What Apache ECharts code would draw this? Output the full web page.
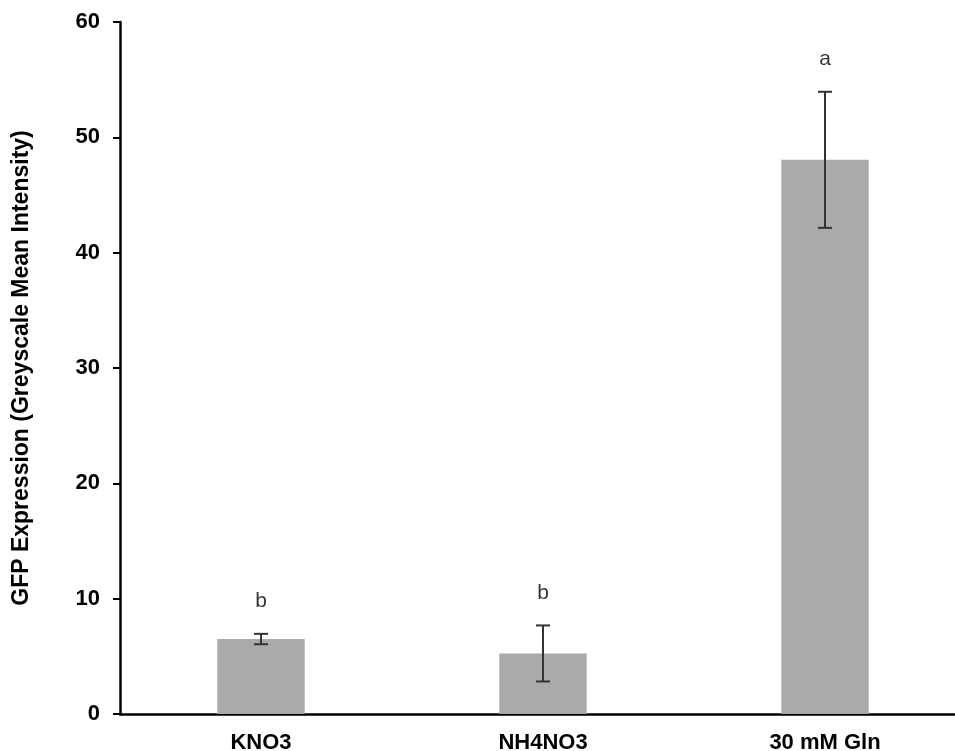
<!DOCTYPE html>
<html>
<head>
<meta charset="utf-8">
<script src="https://cdn.jsdelivr.net/npm/echarts@6/dist/echarts.min.js"></script>
<style>
    html, body { margin: 0; padding: 0; background: #fff; }
    #chart { width: 955px; height: 751px; }
</style>
</head>
<body>
<div id="chart"></div>
<script>
    var categories = ['KNO3', 'NH4NO3', '30 mM Gln'];
    var means = [6.5, 5.25, 48.05];
    var errors = [0.45, 2.43, 5.9];
    var letters = ['b', 'b', 'a'];
    var yTicks = [0, 10, 20, 30, 40, 50, 60];

    var font = 'Liberation Sans, Arial, sans-serif';
    var chart = echarts.init(document.getElementById('chart'));

    var errData = means.map(function (m, i) { return [i, m - errors[i], m + errors[i]]; });
    var letterData = means.map(function (m, i) { return [i, m + errors[i]]; });

    var option = {
        animation: false,
        grid: { left: 120, top: 22, width: 846, height: 692, outerBoundsMode: 'none', containLabel: false },
        xAxis: {
            type: 'category',
            data: categories,
            axisLine: { lineStyle: { color: '#000', width: 2.5 } },
            axisTick: { length: 6, lineStyle: { color: '#000', width: 2 } },
            axisLabel: { color: '#000', fontFamily: font, fontWeight: 'bold', fontSize: 22, margin: 18 }
        },
        yAxis: {
            type: 'value',
            min: yTicks[0],
            max: yTicks[yTicks.length - 1],
            interval: 10,
            name: 'GFP Expression (Greyscale Mean Intensity)',
            nameLocation: 'middle',
            nameGap: 87,
            nameTextStyle: { color: '#000', fontFamily: font, fontWeight: 'bold', fontSize: 23 },
            axisLine: { show: true, lineStyle: { color: '#000', width: 2.5 } },
            axisTick: { show: true, length: 7, lineStyle: { color: '#000', width: 2 } },
            axisLabel: { color: '#000', fontFamily: font, fontWeight: 'bold', fontSize: 22, margin: 20 },
            splitLine: { show: false }
        },
        series: [
            {
                type: 'bar',
                data: means,
                barWidth: '31%',
                itemStyle: { color: '#aaaaaa' }
            },
            {
                type: 'custom',
                data: errData,
                z: 5,
                renderItem: function (params, api) {
                    var lo = api.coord([api.value(0), api.value(1)]);
                    var hi = api.coord([api.value(0), api.value(2)]);
                    var cap = 7;
                    var style = { stroke: '#333', lineWidth: 2 };
                    return {
                        type: 'group',
                        children: [
                            { type: 'line', shape: { x1: hi[0], y1: hi[1], x2: lo[0], y2: lo[1] }, style: style },
                            { type: 'line', shape: { x1: hi[0] - cap, y1: hi[1], x2: hi[0] + cap, y2: hi[1] }, style: style },
                            { type: 'line', shape: { x1: lo[0] - cap, y1: lo[1], x2: lo[0] + cap, y2: lo[1] }, style: style }
                        ]
                    };
                }
            },
            {
                type: 'scatter',
                data: letterData,
                symbolSize: 0,
                silent: true,
                label: {
                    show: true,
                    position: 'top',
                    distance: 22,
                    color: '#000',
                    fontFamily: font,
                    fontSize: 21,
                    formatter: function (p) { return letters[p.dataIndex]; }
                }
            }
        ]
    };

    chart.setOption(option);
</script>
</body>
</html>
